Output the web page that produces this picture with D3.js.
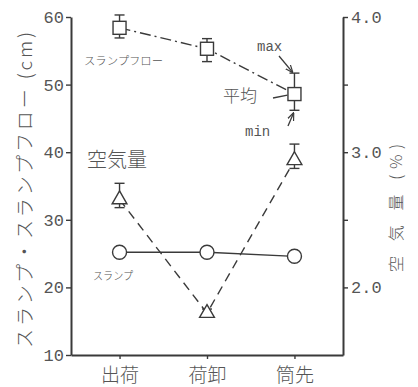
<!DOCTYPE html>
<html>
<head>
<meta charset="utf-8">
<script src="https://cdn.jsdelivr.net/npm/d3@7"></script>
<style>
  html, body { margin: 0; padding: 0; background: #fff; }
  svg { display: block; }
</style>
</head>
<body>
<div id="chart"></div>
<script>
// Stages of delivery along the x axis
const categories = ["出荷", "荷卸", "筒先"];

// Slump flow (cm): mean with max / min
const flowMean = [58.4, 55.3, 48.6];
const flowMax  = [60.3, 56.8, 51.7];
const flowMin  = [56.9, 53.4, 46.2];

// Slump (cm)
const slump = [25.2, 25.2, 24.6];

// Air content (%): mean with max / min (right axis)
const airMean = [2.65, 1.81, 2.94];
const airMax  = [2.77, 1.84, 3.06];
const airMin  = [2.59, 1.78, 2.88];

// Axis ticks
const leftTicks  = [10, 20, 30, 40, 50, 60];
const rightTicks = [2.0, 2.5, 3.0, 3.5, 4.0];
const rightLabelled = [2.0, 3.0, 4.0];

const W = 418, H = 387;
const ink = "#3a3a3a", txt = "#555";
const jp = "'Noto Sans CJK JP', 'Noto Sans', sans-serif";
const mono = "'Liberation Mono', 'DejaVu Sans Mono', monospace";

const svg = d3.select("#chart").append("svg")
  .attr("width", W).attr("height", H)
  .style("background", "#fff");

const x  = d3.scalePoint().domain(categories).range([71, 343]).padding(0.555);
const yL = d3.scaleLinear().domain([10, 60]).range([355, 17]);
const yR = d3.scaleLinear().domain([1.5, 4.0]).range([355, 17]);

// ---- axes ----
const gL = svg.append("g").attr("transform", "translate(71,0)")
  .call(d3.axisLeft(yL).tickValues(leftTicks).tickSize(5).tickSizeOuter(0).tickPadding(2));
const gR = svg.append("g").attr("transform", "translate(343,0)")
  .call(d3.axisRight(yR).tickValues(rightTicks).tickSize(5).tickSizeOuter(0).tickPadding(3)
    .tickFormat(d => rightLabelled.includes(d) ? d3.format(".1f")(d) : ""));
const gB = svg.append("g").attr("transform", "translate(0,355)")
  .call(d3.axisBottom(x).tickSize(4).tickSizeOuter(0));

[gL, gR, gB].forEach(g => {
  g.select(".domain").attr("stroke", ink).attr("stroke-width", 2);
  g.selectAll(".tick line").attr("stroke", ink).attr("stroke-width", 1.4);
});
[gL, gR].forEach(g => g.selectAll(".tick text")
  .attr("fill", txt).style("font-family", mono).style("font-size", "17px"));
gB.selectAll(".tick text")
  .attr("fill", txt).attr("y", 22).attr("dy", "0")
  .style("font-family", jp).style("font-size", "19px").style("font-weight", 300)
  .attr("dominant-baseline", "middle");

// Axis titles
svg.append("text")
  .attr("transform", "translate(27,190) rotate(-90)")
  .attr("text-anchor", "middle").attr("dominant-baseline", "middle")
  .attr("textLength", 316).attr("lengthAdjust", "spacing")
  .attr("fill", txt).style("font-family", jp).style("font-size", "19px").style("font-weight", 300)
  .text("スランプ・スランプフロー (cm)");
svg.append("text")
  .attr("transform", "translate(398,208) rotate(-90)")
  .attr("text-anchor", "middle").attr("dominant-baseline", "middle")
  .attr("textLength", 128).attr("lengthAdjust", "spacing")
  .attr("fill", txt).style("font-family", jp).style("font-size", "16px").style("font-weight", 300)
  .text("空 気 量 (%)");

// ---- series lines ----
const lineL = d3.line().x((d, i) => x(categories[i])).y(d => yL(d));
const lineR = d3.line().x((d, i) => x(categories[i])).y(d => yR(d));

svg.append("path").attr("d", lineL(flowMean))
  .attr("fill", "none").attr("stroke", ink).attr("stroke-width", 1.4)
  .attr("stroke-dasharray", "11,4,2,4");
svg.append("path").attr("d", lineL(slump))
  .attr("fill", "none").attr("stroke", ink).attr("stroke-width", 1.3);
svg.append("path").attr("d", lineR(airMean))
  .attr("fill", "none").attr("stroke", ink).attr("stroke-width", 1.4)
  .attr("stroke-dasharray", "9,6");

// ---- error bars ----
function errorBars(mean, max, min, y) {
  const g = svg.append("g").attr("stroke", ink).attr("stroke-width", 1.4);
  categories.forEach((c, i) => {
    const cx = x(c);
    g.append("line").attr("x1", cx).attr("x2", cx).attr("y1", y(max[i])).attr("y2", y(min[i]));
    g.append("line").attr("x1", cx - 5).attr("x2", cx + 5).attr("y1", y(max[i])).attr("y2", y(max[i]));
    g.append("line").attr("x1", cx - 5).attr("x2", cx + 5).attr("y1", y(min[i])).attr("y2", y(min[i]));
  });
}
errorBars(flowMean, flowMax, flowMin, yL);
errorBars(airMean, airMax, airMin, yR);

// ---- markers ----
svg.append("g").selectAll("rect").data(flowMean).join("rect")
  .attr("x", (d, i) => x(categories[i]) - 6.5).attr("y", d => yL(d) - 6.5)
  .attr("width", 13).attr("height", 13)
  .attr("fill", "#fff").attr("stroke", ink).attr("stroke-width", 1.4);

svg.append("g").selectAll("circle").data(slump).join("circle")
  .attr("cx", (d, i) => x(categories[i])).attr("cy", d => yL(d)).attr("r", 7)
  .attr("fill", "#fff").attr("stroke", ink).attr("stroke-width", 1.4);

const tri = d3.symbol().type(d3.symbolTriangle).size(95);
svg.append("g").selectAll("path").data(airMean).join("path")
  .attr("transform", (d, i) => `translate(${x(categories[i])},${yR(d)})`)
  .attr("d", tri)
  .attr("fill", "#fff").attr("stroke", ink).attr("stroke-width", 1.4);

// ---- labels & callouts ----
const label = (t, px, py, size, fam, anchor = "start") =>
  svg.append("text").attr("x", px).attr("y", py)
    .attr("text-anchor", anchor).attr("dominant-baseline", "middle")
    .attr("fill", txt).style("font-family", fam).style("font-size", size + "px")
    .style("font-weight", fam === jp ? 300 : 400).text(t);

label("スランプフロー", 84, 62, 11.5, jp).attr("textLength", 79).attr("lengthAdjust", "spacingAndGlyphs");
label("スランプ", 93, 277, 11.5, jp).attr("textLength", 40).attr("lengthAdjust", "spacingAndGlyphs");
label("空気量", 87, 162, 20, jp);
label("max", 257, 47, 14, mono);
label("平均", 223, 97, 17, jp);
label("min", 245, 132, 14, mono);

svg.append("defs").append("marker")
  .attr("id", "arrow").attr("viewBox", "0 0 10 10").attr("refX", 9).attr("refY", 5)
  .attr("markerWidth", 6).attr("markerHeight", 6).attr("orient", "auto")
  .append("path").attr("d", "M0,1 L10,5 L0,9").attr("fill", "none")
  .attr("stroke", ink).attr("stroke-width", 1.5);

const xs = x(categories[2]);
const callouts = [
  [279, 56, xs - 2, yL(flowMax[2]) - 1, true],
  [273, 98, xs - 7, yL(flowMean[2]) + 1, false],
  [288, 126, xs - 1, yL(flowMin[2]) + 3, true]
];
callouts.forEach(([x1, y1, x2, y2, arr]) => {
  const l = svg.append("line").attr("x1", x1).attr("y1", y1).attr("x2", x2).attr("y2", y2)
    .attr("stroke", ink).attr("stroke-width", 1.3);
  if (arr) l.attr("marker-end", "url(#arrow)");
});
</script>
</body>
</html>
